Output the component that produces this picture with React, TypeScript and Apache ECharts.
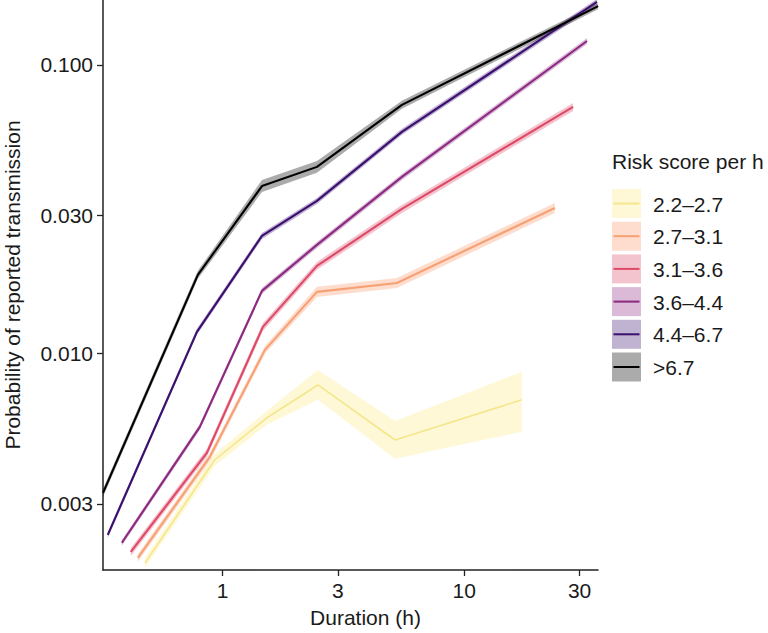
import React, { useEffect, useRef } from "react";
import * as echarts from "echarts";

// ---- data ----
const categories = ["2.2–2.7", "2.7–3.1", "3.1–3.6", "3.6–4.4", "4.4–6.7", ">6.7"];
const lineColors = ["#F4E68A", "#F6A173", "#DE4968", "#8C2981", "#3B0F70", "#000000"];
const bandColors = [
  "rgba(252,232,120,0.30)",
  "rgba(252,150,105,0.32)",
  "rgba(222,73,104,0.32)",
  "rgba(140,41,129,0.32)",
  "rgba(59,15,112,0.32)",
  "rgba(0,0,0,0.33)",
];

const durYellow = [0.477, 0.929, 1.525, 2.48, 5.17, 17.3];
const pYellow = [0.00187, 0.00427, 0.00597, 0.00776, 0.005, 0.00689];
const loYellow = [0.0018, 0.00407, 0.00565, 0.00689, 0.0043, 0.00534];
const hiYellow = [0.00195, 0.00448, 0.00631, 0.00875, 0.00582, 0.00862];

const durOrange = [0.446, 0.886, 1.497, 2.457, 5.26, 23.7];
const pOrange = [0.00195, 0.00437, 0.01027, 0.01632, 0.01753, 0.0319];
const loOrange = [0.00189, 0.00423, 0.00995, 0.01568, 0.01684, 0.03065];
const hiOrange = [0.00201, 0.00451, 0.0106, 0.01699, 0.01825, 0.0332];

const durRed = [0.417, 0.861, 1.468, 2.457, 5.52, 28.2];
const pRed = [0.002045, 0.00451, 0.01234, 0.02009, 0.03166, 0.0715];
const loRed = [0.00198, 0.00437, 0.01195, 0.01946, 0.03066, 0.06925];
const hiRed = [0.00211, 0.00466, 0.01274, 0.02074, 0.03269, 0.07382];

const durMagenta = [0.383, 0.805, 1.455, 2.457, 5.52, 32.2];
const pMagenta = [0.0022, 0.00555, 0.01645, 0.02375, 0.0409, 0.1211];
const loMagenta = [0.00215, 0.00542, 0.01606, 0.02319, 0.03993, 0.11823];
const hiMagenta = [0.00225, 0.00568, 0.01685, 0.02433, 0.04189, 0.12404];

const durBlue = [0.335, 0.783, 1.455, 2.457, 5.52, 35.4];
const pBlue = [0.002344, 0.01186, 0.02552, 0.03375, 0.0586, 0.1654];
const loBlue = [0.00229, 0.01158, 0.02491, 0.03295, 0.05721, 0.16148];
const hiBlue = [0.0024, 0.01215, 0.02614, 0.03457, 0.06002, 0.16942];

const durBlack = [0.32, 0.79, 1.455, 2.457, 5.52, 35.8];
const pBlack = [0.003276, 0.0187, 0.038, 0.0443, 0.0727, 0.16];
const loBlack = [0.00317, 0.01811, 0.03622, 0.04223, 0.07041, 0.1562];
const hiBlack = [0.00338, 0.01931, 0.03986, 0.04647, 0.07506, 0.1639];

const xTicks = [1, 3, 10, 30];
const yTicks = [0.003, 0.01, 0.03, 0.1];
const xRange = [0.32, 35.75];
const yRange = [0.00177, 0.168];

const durs = [durYellow, durOrange, durRed, durMagenta, durBlue, durBlack];
const ps = [pYellow, pOrange, pRed, pMagenta, pBlue, pBlack];
const los = [loYellow, loOrange, loRed, loMagenta, loBlue, loBlack];
const his = [hiYellow, hiOrange, hiRed, hiMagenta, hiBlue, hiBlack];

const FONT = "'Liberation Sans', Arial, Helvetica, sans-serif";
const L = Math.log10;

export default function App() {
  const ref = useRef<HTMLDivElement>(null);
  useEffect(() => {
    if (!ref.current) return;
    const chart = echarts.init(ref.current, undefined, { renderer: "svg" });

    const bandSeries = categories.map((name, k) => {
      const d = durs[k];
      const lo = los[k];
      const hi = his[k];
      return {
        type: "custom",
        name: name + " band",
        clip: true,
        silent: true,
        data: d.map((x, i) => [L(x), L(lo[i]), L(hi[i])]),
        encode: { x: 0, y: [1, 2] },
        renderItem: (params: any, api: any) => {
          if (params.dataIndex !== 0) return { type: "group", children: [] };
          const pts: number[][] = [];
          for (let i = 0; i < d.length; i++) pts.push(api.coord([L(d[i]), L(hi[i])]));
          for (let i = d.length - 1; i >= 0; i--) pts.push(api.coord([L(d[i]), L(lo[i])]));
          return { type: "polygon", shape: { points: pts }, style: { fill: bandColors[k] } };
        },
        z: 2,
      };
    });

    const lineSeries = categories.map((name, k) => ({
      type: "line",
      name,
      data: durs[k].map((x, i) => [L(x), L(ps[k][i])]),
      showSymbol: false,
      symbol: "none",
      lineStyle: { color: lineColors[k], width: k === 0 ? 1.6 : 2.1 },
      itemStyle: { color: lineColors[k] },
      z: 3,
    }));

    // legend drawn with graphic elements
    const legendLeft = 612;
    const legendTop = 189;
    const step = 32.7;
    const legendChildren: any[] = [
      {
        type: "text",
        left: legendLeft,
        top: 151,
        style: { text: "Risk score per h", font: `21px ${FONT}`, fill: "#1a1a1a" },
      },
    ];
    categories.forEach((name, k) => {
      const y = legendTop + k * step;
      legendChildren.push({
        type: "rect",
        shape: { x: legendLeft, y, width: 29, height: 29 },
        style: { fill: bandColors[k] },
      });
      legendChildren.push({
        type: "line",
        shape: { x1: legendLeft + 1.5, y1: y + 14.5, x2: legendLeft + 27.5, y2: y + 14.5 },
        style: { stroke: lineColors[k], lineWidth: 2 },
      });
      legendChildren.push({
        type: "text",
        x: legendLeft + 41,
        y: y + 15,
        style: {
          text: name,
          font: `21px ${FONT}`,
          fill: "#1a1a1a",
          verticalAlign: "middle",
          align: "left",
        },
      });
    });

    chart.setOption({
      animation: false,
      grid: { left: 103, right: 170, top: 0, bottom: 63, containLabel: false, outerBoundsMode: "none" },
      xAxis: {
        type: "value",
        min: L(xRange[0]),
        max: L(xRange[1]),
        name: "Duration (h)",
        nameLocation: "middle",
        nameGap: 37,
        nameTextStyle: { fontFamily: FONT, fontSize: 21, color: "#1a1a1a", padding: [0, 0, 0, 30] },
        axisLine: { onZero: false, lineStyle: { color: "#222", width: 1.5 } },
        axisTick: { show: true, length: 6, lineStyle: { color: "#222", width: 1.3 }, customValues: xTicks.map(L) },
        axisLabel: {
          customValues: xTicks.map(L),
          formatter: (v: number) => String(Math.round(Math.pow(10, v))),
          fontFamily: FONT,
          fontSize: 21,
          color: "#1a1a1a",
          margin: 10,
        },
        splitLine: { show: false },
      },
      yAxis: {
        type: "value",
        min: L(yRange[0]),
        max: L(yRange[1]),
        name: "Probability of reported transmission",
        nameLocation: "middle",
        nameGap: 80,
        nameRotate: 90,
        nameTextStyle: { fontFamily: FONT, fontSize: 21, color: "#1a1a1a" },
        axisLine: { show: true, onZero: false, lineStyle: { color: "#222", width: 1.5 } },
        axisTick: { show: true, length: 6, lineStyle: { color: "#222", width: 1.3 }, customValues: yTicks.map(L) },
        axisLabel: {
          customValues: yTicks.map(L),
          formatter: (v: number) => Math.pow(10, v).toFixed(3),
          fontFamily: FONT,
          fontSize: 21,
          color: "#1a1a1a",
          margin: 10,
        },
        splitLine: { show: false },
      },
      graphic: [{ type: "group", children: legendChildren }],
      series: [...bandSeries, ...lineSeries],
    });
    return () => chart.dispose();
  }, []);
  return (
    <div
      ref={ref}
      style={{ position: "fixed", left: 0, top: 0, width: 768, height: 633, background: "#fff" }}
    />
  );
}
